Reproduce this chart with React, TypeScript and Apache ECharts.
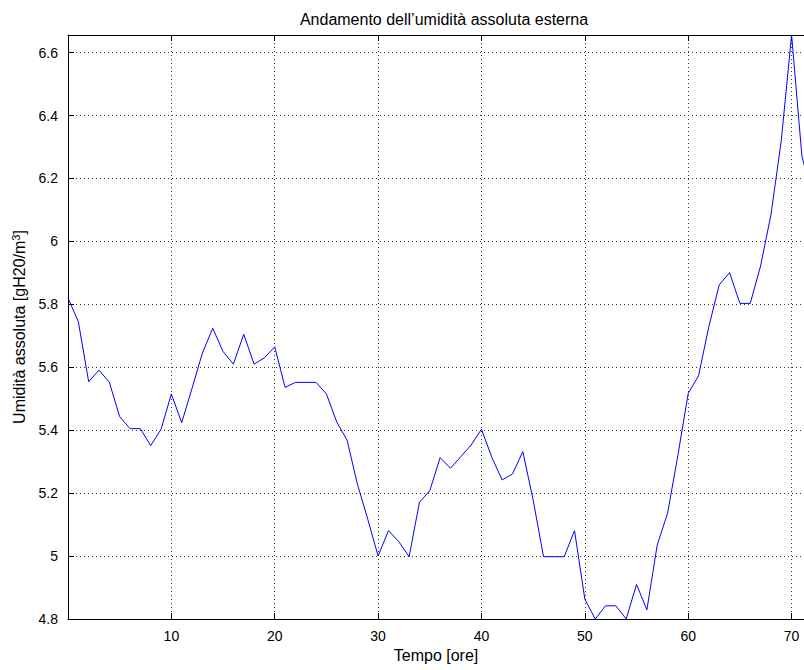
import React, { useEffect, useRef } from "react";
import * as echarts from "echarts";

// Hourly readings, starting at hour 0
const startHour = 0;
const humidity: number[] = [
  5.82, 5.745, 5.554, 5.591, 5.552, 5.443, 5.405, 5.405, 5.351, 5.403,
  5.515, 5.424, 5.533, 5.645, 5.724, 5.65, 5.61, 5.705, 5.61, 5.63,
  5.665, 5.536, 5.552, 5.552, 5.552, 5.515, 5.426, 5.368, 5.228, 5.117,
  5.0, 5.081, 5.046, 4.998, 5.171, 5.208, 5.313, 5.279, 5.316, 5.353,
  5.403, 5.314, 5.242, 5.261, 5.332, 5.178, 4.998, 4.998, 4.998, 5.081,
  4.863, 4.8, 4.842, 4.842, 4.8, 4.91, 4.829, 5.035, 5.136, 5.32,
  5.517, 5.573, 5.73, 5.862, 5.901, 5.803, 5.803, 5.922, 6.084, 6.32,
  6.656, 6.27, 6.15,
];

// Visible window of the axes
const xRange = { min: 0, max: 71.2, step: 10 };
const yRange = { min: 4.8, max: 6.656, step: 0.2 };

const titleText = "Andamento dell\u2019umidità assoluta esterna";
const xName = "Tempo [ore]";
const yName = "Umidità assoluta [gH20/m{sup|3}]";

const FONT = "'Liberation Sans', Arial, Helvetica, sans-serif";

export default function App() {
  const ref = useRef<HTMLDivElement>(null);

  useEffect(() => {
    if (!ref.current) return;
    const chart = echarts.init(ref.current, undefined, { renderer: "svg" });
    const points = humidity.map((v, i) => [startHour + i, v]);

    const gridLine = { show: true, lineStyle: { color: "#333", width: 1, type: [1, 3] as any } };
    const axisLine = { show: true, onZero: false, lineStyle: { color: "#000", width: 1 } };
    const tick = { show: true, inside: true, length: 6, lineStyle: { color: "#000", width: 1 } };

    chart.setOption({
      animation: false,
      backgroundColor: "#fff",
      textStyle: { fontFamily: FONT },
      grid: { left: 68, right: 0, top: 35, bottom: 51, containLabel: false },
      graphic: [
        {
          type: "text",
          x: 444,
          y: 19,
          style: {
            text: titleText,
            fontFamily: FONT,
            fontSize: 16,
            fill: "#000",
            textAlign: "center",
            textVerticalAlign: "middle",
          },
        },
      ],
      xAxis: [
        {
          type: "value",
          min: xRange.min,
          max: xRange.max,
          interval: xRange.step,
          name: xName,
          nameLocation: "middle",
          nameGap: 26,
          nameTextStyle: { fontFamily: FONT, fontSize: 16, color: "#000" },
          axisLine,
          axisTick: tick,
          axisLabel: {
            showMinLabel: false,
            showMaxLabel: false,
            margin: 10,
            fontFamily: FONT,
            fontSize: 14,
            color: "#000",
          },
          splitLine: gridLine,
        },
        {
          type: "value",
          position: "top",
          min: xRange.min,
          max: xRange.max,
          interval: xRange.step,
          axisLine,
          axisTick: tick,
          axisLabel: { show: false },
          splitLine: { show: false },
        },
      ],
      yAxis: [
        {
          type: "value",
          min: yRange.min,
          max: yRange.max,
          interval: yRange.step,
          name: yName,
          nameLocation: "middle",
          nameGap: 36,
          nameTextStyle: {
            fontFamily: FONT,
            fontSize: 16,
            color: "#000",
            rich: {
              sup: { fontFamily: FONT, fontSize: 11, color: "#000", verticalAlign: "top", padding: [0, 0, 8, 0] },
            },
          },
          axisLine,
          axisTick: tick,
          axisLabel: {
            showMaxLabel: false,
            margin: 10,
            fontFamily: FONT,
            fontSize: 14,
            color: "#000",
            formatter: (v: number) => String(parseFloat(v.toFixed(1))),
          },
          splitLine: gridLine,
        },
      ],
      series: [
        {
          type: "line",
          data: points,
          xAxisIndex: 0,
          yAxisIndex: 0,
          showSymbol: false,
          symbol: "none",
          clip: true,
          lineStyle: { color: "#0000ff", width: 1 },
        },
      ],
    });

    return () => chart.dispose();
  }, []);

  return (
    <div
      ref={ref}
      style={{ position: "fixed", left: 0, top: 0, width: 804, height: 670 }}
    />
  );
}
